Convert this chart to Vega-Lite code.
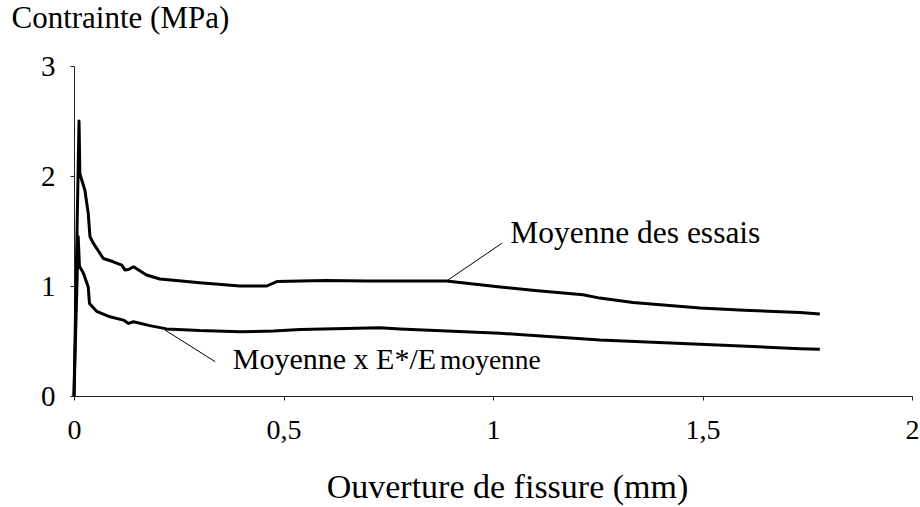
{
  "$schema": "https://vega.github.io/schema/vega-lite/v6.json",
  "width": 838,
  "height": 330,
  "autosize": {"type": "none"},
  "padding": {"left": 74, "top": 66, "right": 8, "bottom": 111},
  "background": "white",
  "config": {
    "view": {"stroke": null},
    "font": "Liberation Serif",
    "axis": {"grid": false, "domainColor": "#222", "tickColor": "#222", "labelColor": "#000", "titleColor": "#000", "labelFont": "Liberation Serif", "titleFont": "Liberation Serif", "titleFontWeight": "normal"}
  },
  "datasets": {
    "curves": [
      {"s": "Moyenne des essais", "x": 0, "y": 0},
      {"s": "Moyenne des essais", "x": 0.012, "y": 2.5},
      {"s": "Moyenne des essais", "x": 0.014, "y": 2.02},
      {"s": "Moyenne des essais", "x": 0.026, "y": 1.87},
      {"s": "Moyenne des essais", "x": 0.034, "y": 1.66},
      {"s": "Moyenne des essais", "x": 0.038, "y": 1.45},
      {"s": "Moyenne des essais", "x": 0.046, "y": 1.39},
      {"s": "Moyenne des essais", "x": 0.07, "y": 1.25},
      {"s": "Moyenne des essais", "x": 0.094, "y": 1.22},
      {"s": "Moyenne des essais", "x": 0.114, "y": 1.19},
      {"s": "Moyenne des essais", "x": 0.122, "y": 1.145},
      {"s": "Moyenne des essais", "x": 0.13, "y": 1.15},
      {"s": "Moyenne des essais", "x": 0.142, "y": 1.175},
      {"s": "Moyenne des essais", "x": 0.173, "y": 1.1},
      {"s": "Moyenne des essais", "x": 0.205, "y": 1.064},
      {"s": "Moyenne des essais", "x": 0.269, "y": 1.04},
      {"s": "Moyenne des essais", "x": 0.3, "y": 1.03},
      {"s": "Moyenne des essais", "x": 0.396, "y": 1.0},
      {"s": "Moyenne des essais", "x": 0.46, "y": 1.0},
      {"s": "Moyenne des essais", "x": 0.484, "y": 1.04},
      {"s": "Moyenne des essais", "x": 0.54, "y": 1.045},
      {"s": "Moyenne des essais", "x": 0.6, "y": 1.05},
      {"s": "Moyenne des essais", "x": 0.7, "y": 1.045},
      {"s": "Moyenne des essais", "x": 0.778, "y": 1.045},
      {"s": "Moyenne des essais", "x": 0.889, "y": 1.045},
      {"s": "Moyenne des essais", "x": 1.017, "y": 0.99},
      {"s": "Moyenne des essais", "x": 1.1, "y": 0.96},
      {"s": "Moyenne des essais", "x": 1.215, "y": 0.92},
      {"s": "Moyenne des essais", "x": 1.255, "y": 0.89},
      {"s": "Moyenne des essais", "x": 1.334, "y": 0.85},
      {"s": "Moyenne des essais", "x": 1.494, "y": 0.8},
      {"s": "Moyenne des essais", "x": 1.6, "y": 0.78},
      {"s": "Moyenne des essais", "x": 1.733, "y": 0.76},
      {"s": "Moyenne des essais", "x": 1.78, "y": 0.745},
      {"s": "Moyenne x E*/Emoyenne", "x": 0, "y": 0},
      {"s": "Moyenne x E*/Emoyenne", "x": 0.01, "y": 1.45},
      {"s": "Moyenne x E*/Emoyenne", "x": 0.013, "y": 1.18},
      {"s": "Moyenne x E*/Emoyenne", "x": 0.022, "y": 1.12},
      {"s": "Moyenne x E*/Emoyenne", "x": 0.034, "y": 0.99},
      {"s": "Moyenne x E*/Emoyenne", "x": 0.037, "y": 0.84},
      {"s": "Moyenne x E*/Emoyenne", "x": 0.054, "y": 0.77},
      {"s": "Moyenne x E*/Emoyenne", "x": 0.086, "y": 0.72},
      {"s": "Moyenne x E*/Emoyenne", "x": 0.118, "y": 0.69},
      {"s": "Moyenne x E*/Emoyenne", "x": 0.13, "y": 0.66},
      {"s": "Moyenne x E*/Emoyenne", "x": 0.142, "y": 0.675},
      {"s": "Moyenne x E*/Emoyenne", "x": 0.181, "y": 0.64},
      {"s": "Moyenne x E*/Emoyenne", "x": 0.221, "y": 0.61},
      {"s": "Moyenne x E*/Emoyenne", "x": 0.3, "y": 0.595},
      {"s": "Moyenne x E*/Emoyenne", "x": 0.396, "y": 0.585},
      {"s": "Moyenne x E*/Emoyenne", "x": 0.476, "y": 0.59},
      {"s": "Moyenne x E*/Emoyenne", "x": 0.54, "y": 0.605},
      {"s": "Moyenne x E*/Emoyenne", "x": 0.73, "y": 0.62},
      {"s": "Moyenne x E*/Emoyenne", "x": 0.778, "y": 0.61},
      {"s": "Moyenne x E*/Emoyenne", "x": 1.017, "y": 0.57},
      {"s": "Moyenne x E*/Emoyenne", "x": 1.255, "y": 0.51},
      {"s": "Moyenne x E*/Emoyenne", "x": 1.494, "y": 0.47},
      {"s": "Moyenne x E*/Emoyenne", "x": 1.733, "y": 0.43},
      {"s": "Moyenne x E*/Emoyenne", "x": 1.78, "y": 0.425}
    ],
    "leaders": [
      {"x": 0.889, "y": 1.045, "x2": 1.021, "y2": 1.388},
      {"x": 0.217, "y": 0.6, "x2": 0.337, "y2": 0.312}
    ],
    "labelsTop": [
      {"x": 1.041, "y": 1.39, "t": "Moyenne des essais"}
    ],
    "labelsMain": [
      {"x": 0.379, "y": 0.245, "t": "Moyenne x E*/E"}
    ],
    "labelsSmall": [
      {"x": 0.8735, "y": 0.245, "t": "moyenne"}
    ]
  },
  "layer": [
    {
      "data": {"name": "curves"},
      "mark": {"type": "line", "color": "#000", "strokeWidth": 3, "strokeJoin": "round"},
      "encoding": {
        "x": {
          "field": "x", "type": "quantitative",
          "scale": {"domain": [0, 2], "nice": false},
          "axis": {
            "values": [0, 0.5, 1, 1.5, 2],
            "labelExpr": "replace(toString(datum.value), '.', ',')",
            "labelFontSize": 28, "labelPadding": 16, "tickSize": 4,
            "labelFlush": false,
            "title": "Ouverture de fissure (mm)",
            "titleFontSize": 34, "titleX": 433, "titleY": 101,
            "titleBaseline": "alphabetic", "titleAlign": "center"
          }
        },
        "y": {
          "field": "y", "type": "quantitative",
          "scale": {"domain": [0, 3], "nice": false},
          "axis": {
            "values": [0, 1, 2, 3],
            "labelExpr": "toString(datum.value)",
            "labelFontSize": 29, "labelPadding": 15, "tickSize": 4,
            "labelFlush": false,
            "title": "Contrainte (MPa)",
            "titleFontSize": 31, "titleAngle": 0, "titleAlign": "left",
            "titleX": -63, "titleY": -39, "titleBaseline": "alphabetic"
          }
        },
        "detail": {"field": "s"}
      }
    },
    {
      "data": {"name": "leaders"},
      "mark": {"type": "rule", "color": "#000", "strokeWidth": 1},
      "encoding": {
        "x": {"field": "x", "type": "quantitative"},
        "y": {"field": "y", "type": "quantitative"},
        "x2": {"field": "x2"},
        "y2": {"field": "y2"}
      }
    },
    {
      "data": {"name": "labelsTop"},
      "mark": {"type": "text", "align": "left", "baseline": "alphabetic", "fontSize": 31.5, "color": "#000"},
      "encoding": {
        "x": {"field": "x", "type": "quantitative"},
        "y": {"field": "y", "type": "quantitative"},
        "text": {"field": "t"}
      }
    },
    {
      "data": {"name": "labelsMain"},
      "mark": {"type": "text", "align": "left", "baseline": "alphabetic", "fontSize": 30, "color": "#000"},
      "encoding": {
        "x": {"field": "x", "type": "quantitative"},
        "y": {"field": "y", "type": "quantitative"},
        "text": {"field": "t"}
      }
    },
    {
      "data": {"name": "labelsSmall"},
      "mark": {"type": "text", "align": "left", "baseline": "alphabetic", "fontSize": 27.5, "color": "#000"},
      "encoding": {
        "x": {"field": "x", "type": "quantitative"},
        "y": {"field": "y", "type": "quantitative"},
        "text": {"field": "t"}
      }
    }
  ]
}
